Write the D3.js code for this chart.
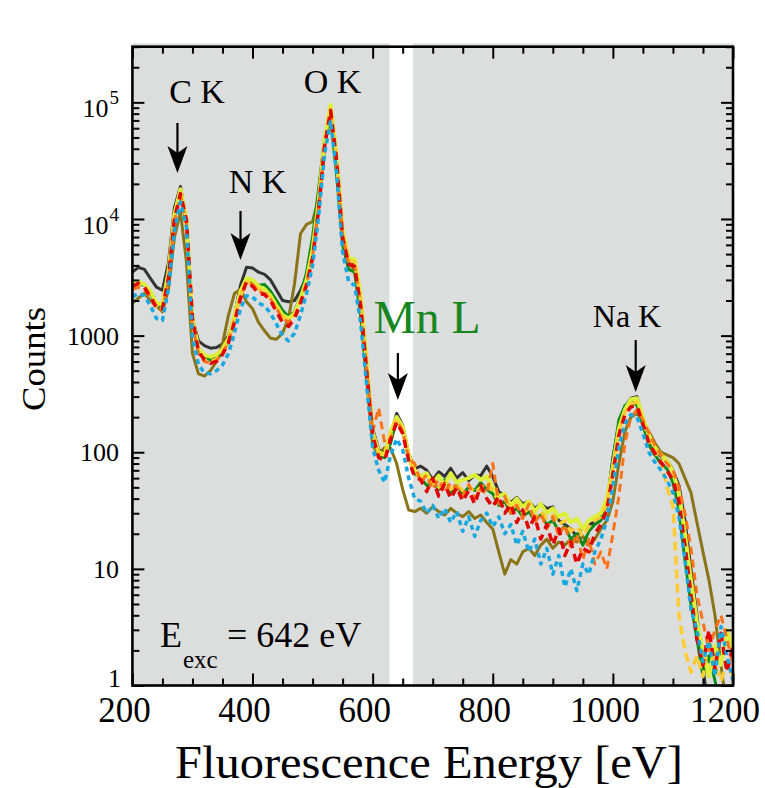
<!DOCTYPE html>
<html><head><meta charset="utf-8">
<script src="https://cdn.jsdelivr.net/npm/d3@7"></script>
<style>
body{margin:0;background:#fff;}
text{font-family:"Liberation Serif","Times New Roman",Times,serif;fill:#000;}
</style>
</head><body>
<svg id="chart" width="765" height="788"></svg>
<script>
// ---------------- DATA ----------------
const energy = [200,210,220,230,240,250,260,270,280,290,300,310,320,330,340,350,360,370,380,390,
400,410,420,430,440,450,460,470,480,490,500,510,520,530,540,550,560,570,580,590,
600,610,620,630,640,650,660,670,680,690,700,710,720,730,740,750,760,770,780,790,
800,810,820,830,840,850,860,870,880,890,900,910,920,930,940,950,960,970,980,990,
1000,1010,1020,1030,1040,1050,1060,1070,1080,1090,1100,1110,1120,1130,1140,1150,1160,1170,1180,1190,1200];

const blackCounts = [3500,3850,3700,3100,2600,2450,4200,12500,19000,9500,
1400,900,820,780,790,850,1000,1500,2700,3850,
3800,3500,3350,3000,2450,2000,1950,2000,2450,3200,
5200,12000,42000,85000,30000,8000,4500,4100,2000,560,
160,105,100,140,215,170,98,72,76,70,
58,68,62,73,60,67,57,64,63,76,
62,46,42,37,41,36,38,33,36,33,
34,26,24,22,19,23,24,25,27,35,
90,175,245,290,300,195,130,105,92,86,
70,52,26,10,4,1.4,0.6,0.5,0.5,0.5,0.5];

const oliveCounts = [1900,2100,2300,2000,1800,1600,2500,7000,11500,4300,
700,470,450,500,600,850,1500,2300,2500,1950,
1700,1300,1100,950,930,1050,1400,2800,7500,9000,
9500,15000,45000,72000,28000,7500,4300,3600,1600,420,
115,95,110,108,80,48,32,31,33,30,
34,31,29,33,30,28,31,27,29,25,
22,14,9,12,11,14,15,13,16,18,
15,17,16,18,17,19,16,18,22,26,
38,80,150,200,215,190,150,120,100,95,
90,80,60,45,25,14,8,4,1.5,0.6,0.5];

const greenCounts = [2700,2800,2700,2300,1850,1800,3300,10500,17000,9000,
1300,750,660,620,640,700,900,1400,2300,3000,
2900,2700,2750,2400,2000,1650,1450,1600,2200,3500,
7000,18000,50000,75000,24000,6000,3700,3500,1500,450,
140,95,90,120,190,160,90,65,60,52,
55,48,58,45,52,44,50,47,55,48,
44,35,38,30,33,28,31,26,29,24,
26,21,23,18,20,16,21,24,26,38,
85,190,250,270,255,170,115,95,80,72,
55,32,12,5,2.5,1.2,1.8,1.1,0.6,0.5,0.5];

const limeCounts = [2800,2900,2750,2400,1900,1850,3500,11000,18000,10000,
1400,780,680,660,690,760,950,1500,2400,3100,
3000,2650,2500,2200,1800,1500,1400,1550,2100,3000,
5500,14000,48000,95000,35000,8000,4600,4500,2200,600,
150,100,95,150,200,165,95,70,62,66,
54,63,52,66,55,58,60,64,58,62,
50,42,44,35,40,34,38,31,36,30,
33,28,30,25,27,22,26,28,30,40,
75,160,230,285,290,200,140,110,95,85,
68,45,20,8,3.5,2,1.2,2.2,1.5,3,2];

const goldCounts = [2600,2750,2600,2200,1800,1700,3200,10000,16500,9500,
1300,720,620,600,630,720,900,1400,2200,2900,
2800,2500,2400,2100,1750,1450,1350,1500,2000,2900,
5000,13000,45000,88000,33000,7500,4400,4300,2000,560,
145,98,92,140,195,155,90,66,60,55,
58,50,56,48,53,47,52,45,50,55,
46,38,40,33,36,30,33,28,31,27,
29,24,26,21,23,19,23,26,28,36,
70,150,220,260,270,185,125,100,85,50,
35,4,2,1.3,1.8,1.2,2.5,1.5,1.1,1.6,1.2];

const orangeCounts = [2500,2600,2500,2100,1700,1650,3000,9500,16000,9000,
1250,700,600,580,610,700,880,1350,2150,2850,
2750,2400,2300,2050,1700,1400,1300,1450,1950,2800,
4800,12500,43000,82000,31000,7200,4200,4000,1900,520,
150,240,120,130,185,150,88,80,55,64,
48,58,45,55,50,42,53,40,48,44,
80,36,42,30,35,27,36,25,30,22,
28,19,24,15,20,12,18,11,14,10,
20,42,120,200,230,190,145,115,95,80,
70,50,30,15,6,3.5,2,3,4,2.5,1.5];

const redCounts = [2650,2800,2600,2150,1750,1700,3100,10000,16500,9800,
1400,730,620,580,600,690,870,1300,2100,2900,
2650,2300,2250,2000,1600,1300,1200,1400,1900,2700,
4600,12000,42000,85000,32000,7000,4100,3900,1800,500,
140,90,85,130,180,145,85,62,58,46,
60,42,54,40,50,38,47,36,52,40,
34,42,30,36,25,32,22,28,18,24,
16,22,13,17,11,15,14,20,24,32,
65,140,210,245,250,175,120,98,82,70,
58,38,16,6,2.5,1.5,3,1.4,2.8,1.3,2.2];

const blueCounts = [2150,2300,2200,1800,1400,1350,2500,8000,14000,8500,
1000,560,480,470,500,560,700,1050,1700,2200,
2150,1900,1800,1550,1250,1000,900,1050,1500,2300,
4000,10500,36000,70000,25000,5200,2900,2700,1300,380,
110,70,55,95,130,105,60,40,38,30,
35,27,33,25,31,21,28,19,26,30,
23,28,20,24,16,21,14,18,11,15,
9,13,7,10,6.5,11,9,14,18,26,
50,110,175,210,200,145,100,82,70,58,
45,28,12,4.5,3,1.6,2.4,1.2,3.2,1.8,1.1];

const seriesNames = ["black","olive","green","lime","gold","orange","red","blue"];
const seriesValues = [blackCounts,oliveCounts,greenCounts,limeCounts,goldCounts,orangeCounts,redCounts,blueCounts];

const xMajorTicks = [200,400,600,800,1000,1200];
const xTickLabels = ["200","400","600","800","1000","1200"];
const yMajorTicks = [1,10,100,1000,1e4,1e5];
const yTickLabels = ["1","10","100","1000","10^4","10^5"];
const windowBand = [628,667];
const peaks = [{name:"C K",e:275},{name:"N K",e:380},{name:"Mn L",e:642},{name:"Na K",e:1038}];

// ---------------- STYLES ----------------
const styles = {
  black:{c:"#333333",w:3,d:null},
  olive:{c:"#8a7418",w:3,d:null},
  green:{c:"#0b8a1a",w:3,d:null},
  lime:{c:"#dcef3a",w:4,d:null},
  gold:{c:"#ffcc33",w:3.5,d:"9,5"},
  orange:{c:"#ff7318",w:3,d:"8,5"},
  red:{c:"#e00000",w:3.5,d:"8,6"},
  blue:{c:"#18a8e0",w:3.5,d:"5,4"}
};

// ---------------- CHART ----------------
const svg = d3.select("#chart");
const m = {l:132.4, r:733, t:46.7, b:685.5};
const x = d3.scaleLinear().domain([200,1200]).range([m.l,m.r]);
const y = d3.scaleLog().domain([1,3e5]).range([m.b,m.t]);

// background
svg.append("rect").attr("x",m.l).attr("y",43.3).attr("width",m.r-m.l).attr("height",m.b-43.3).attr("fill","#dcdddd");
svg.append("rect").attr("x",x(windowBand[0])).attr("y",43.3).attr("width",x(windowBand[1])-x(windowBand[0])).attr("height",m.b-43.3).attr("fill","#ffffff");

svg.append("clipPath").attr("id","clip").append("rect")
  .attr("x",m.l).attr("y",m.t).attr("width",m.r-m.l).attr("height",m.b-m.t);

const line = d3.line().x(d=>x(d[0])).y(d=>y(Math.max(d[1],0.3)));
const gl = svg.append("g").attr("clip-path","url(#clip)");
seriesNames.forEach((nm,i)=>{
  const s = styles[nm];
  gl.append("path")
    .datum(energy.map((e,j)=>[e,seriesValues[i][j]]))
    .attr("d",line).attr("fill","none")
    .attr("stroke",s.c).attr("stroke-width",s.w)
    .attr("stroke-linejoin","round")
    .attr("stroke-dasharray",s.d);
});

// axes (ticks inward on all sides)
const xMinor = d3.range(200,1201,50).filter(v=>v%200!==0);
const yMinor = [];
for (let p=0;p<=5;p++) for (let k=2;k<=9;k++){const v=k*Math.pow(10,p); if(v<=3e5) yMinor.push(v);}
function styleAxis(g){g.select(".domain").remove(); g.selectAll(".tick line").attr("stroke","#000").attr("stroke-width",2);}
function ax(gen, vals, size, tr){
  svg.append("g").attr("transform",tr).call(gen.tickValues(vals).tickSize(-size).tickFormat("")).call(styleAxis);
}
ax(d3.axisBottom(x), xMajorTicks, 12, `translate(0,${m.b})`);
ax(d3.axisBottom(x), xMinor, 7, `translate(0,${m.b})`);
ax(d3.axisTop(x), xMajorTicks, 12, `translate(0,${m.t})`);
ax(d3.axisTop(x), xMinor, 7, `translate(0,${m.t})`);
ax(d3.axisLeft(y), yMajorTicks, 12, `translate(${m.l},0)`);
ax(d3.axisLeft(y), yMinor, 7, `translate(${m.l},0)`);
ax(d3.axisRight(y), yMajorTicks, 12, `translate(${m.r},0)`);
ax(d3.axisRight(y), yMinor, 7, `translate(${m.r},0)`);

svg.append("rect").attr("x",m.l).attr("y",m.t).attr("width",m.r-m.l).attr("height",m.b-m.t)
  .attr("fill","none").attr("stroke","#000").attr("stroke-width",2.6);

// tick labels
svg.append("g").selectAll("text").data(xMajorTicks).join("text")
  .attr("x",d=>x(d)-8).attr("y",721.5).attr("text-anchor","middle")
  .attr("font-size",35).text((d,i)=>xTickLabels[i]);

const yl = svg.append("g").selectAll("text").data(yMajorTicks).join("text")
  .attr("x",d=>d===1?121:119).attr("text-anchor","end").attr("font-size",26)
  .attr("y",(d,i)=> y(d) + (yTickLabels[i].includes("^") ? 15 : (d===1?1:9)));
yl.each(function(d,i){
  const t = d3.select(this); const lab = yTickLabels[i];
  if (lab.includes("^")) {
    const [b,e] = lab.split("^");
    t.append("tspan").text(b);
    t.append("tspan").attr("font-size",19).attr("dy",-13).attr("dx",1).text(e);
  } else t.text(lab);
});

// axis titles
svg.append("text").attr("x",429).attr("y",778).attr("text-anchor","middle")
  .attr("font-size",46).attr("textLength",508).attr("lengthAdjust","spacingAndGlyphs")
  .text("Fluorescence Energy [eV]");
svg.append("text").attr("transform","translate(45,359) rotate(-90)").attr("text-anchor","middle")
  .attr("font-size",34).attr("textLength",104).attr("lengthAdjust","spacingAndGlyphs").text("Counts");

// peak labels & arrows
function arrow(e, y0, y1){
  const xx = x(e);
  svg.append("line").attr("x1",xx).attr("x2",xx).attr("y1",y0).attr("y2",y1-12)
    .attr("stroke","#000").attr("stroke-width",2.2);
  svg.append("path").attr("d",`M${xx},${y1} L${xx-10},${y1-27} L${xx},${y1-20} L${xx+10},${y1-27} Z`).attr("fill","#000");
}
arrow(peaks[0].e,123,173);
arrow(peaks[1].e,211,260);
arrow(peaks[2].e,353,400);
arrow(peaks[3].e,340,392);

svg.append("text").attr("x",197).attr("y",103).attr("text-anchor","middle").attr("font-size",34).text("C K");
svg.append("text").attr("x",257.5).attr("y",193).attr("text-anchor","middle").attr("font-size",34).text("N K");
svg.append("text").attr("x",332.5).attr("y",93).attr("text-anchor","middle").attr("font-size",34).text("O K");
svg.append("text").attr("x",627).attr("y",327).attr("text-anchor","middle").attr("font-size",32).text("Na K");
svg.append("text").attr("x",427).attr("y",333).attr("text-anchor","middle").attr("font-size",46)
  .attr("textLength",107).attr("lengthAdjust","spacingAndGlyphs").style("fill","#16871e").text("Mn L");

// excitation energy
svg.append("text").attr("x",160).attr("y",647).attr("font-size",36).text("E");
svg.append("text").attr("x",183).attr("y",668).attr("font-size",25).text("exc");
svg.append("text").attr("x",227).attr("y",647).attr("font-size",36).text("= 642 eV");
</script>
</body></html>
